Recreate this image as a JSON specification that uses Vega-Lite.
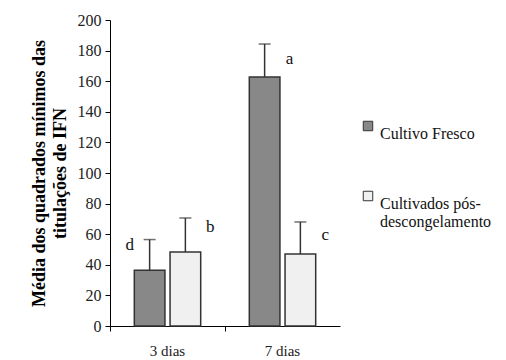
{
  "$schema": "https://vega.github.io/schema/vega-lite/v6.json",
  "width": 230,
  "height": 306,
  "autosize": "none",
  "padding": {"left": 110, "top": 20, "right": 166, "bottom": 34},
  "background": "white",
  "config": {"view": {"stroke": null}},
  "data": {"values": [
    {"dia": "3 dias", "grupo": "Cultivo  Fresco", "media": 36.5, "sup": 56.5, "letra": "d", "pos": 53, "lado": "esq"},
    {"dia": "3 dias", "grupo": "Cultivados pós-descongelamento", "media": 48.3, "sup": 70.6, "letra": "b", "pos": 64.5, "lado": "dir"},
    {"dia": "7 dias", "grupo": "Cultivo  Fresco", "media": 162.8, "sup": 184.3, "letra": "a", "pos": 174.5, "lado": "dir"},
    {"dia": "7 dias", "grupo": "Cultivados pós-descongelamento", "media": 47, "sup": 68, "letra": "c", "pos": 59.5, "lado": "dir"}
  ]},
  "encoding": {
    "x": {
      "field": "dia", "type": "nominal",
      "scale": {"paddingInner": 0, "paddingOuter": 0},
      "axis": {"title": null, "grid": false, "labelAngle": 0, "labelFont": "serif", "labelFontSize": 15, "labelColor": "#222", "labelPadding": 12, "bandPosition": 0, "tickSize": 5, "tickColor": "#000", "domainColor": "#000"}
    },
    "xOffset": {
      "field": "grupo", "type": "nominal",
      "sort": ["Cultivo  Fresco", "Cultivados pós-descongelamento"],
      "scale": {"paddingInner": 0.143, "paddingOuter": 0.68}
    },
    "y": {
      "field": "media", "type": "quantitative",
      "scale": {"domain": [0, 200], "nice": false},
      "axis": {
        "values": [0, 20, 40, 60, 80, 100, 120, 140, 160, 180, 200],
        "labelOverlap": false,
        "grid": false,
        "labelFont": "serif",
        "labelFontSize": 16, "labelColor": "#222", "tickSize": 5, "tickColor": "#000", "domainColor": "#000", "labelPadding": 4,
        "title": ["Média dos quadrados mínimos das", "titulações de IFN"],
        "titleFont": "Liberation Serif",
        "titleFontSize": 18, "titleFontWeight": "bold", "titleColor": "#000", "titlePadding": 8, "titleLineHeight": 21
      }
    }
  },
  "layer": [
    {
      "mark": {"type": "bar", "stroke": "#333", "strokeWidth": 1.5},
      "encoding": {
        "fill": {
          "field": "grupo", "type": "nominal",
          "sort": ["Cultivo  Fresco", "Cultivados pós-descongelamento"],
          "scale": {"range": ["#888888", "#f0f0f0"]},
          "legend": {
            "title": null,
            "orient": "none",
            "legendX": 250,
            "legendY": 98,
            "symbolType": "square",
            "symbolSize": 90,
            "symbolStrokeColor": "#333",
            "symbolStrokeWidth": 1,
            "labelFontSize": 16,
            "labelFont": "serif",
            "labelColor": "#111",
            "rowPadding": 46,
            "labelLimit": 200,
            "labelBaseline": "top",
            "labelOffset": 4,
            "labelExpr": "datum.label == 'Cultivados pós-descongelamento' ? ['Cultivados pós-', 'descongelamento'] : datum.label"
          }
        }
      }
    },
    {
      "mark": {"type": "rule", "color": "#333", "strokeWidth": 1.5},
      "encoding": {"y2": {"field": "sup"}}
    },
    {
      "mark": {"type": "tick", "color": "#333", "thickness": 1.5, "size": 12},
      "encoding": {"y": {"field": "sup", "type": "quantitative"}}
    },
    {
      "transform": [{"filter": "datum.lado == 'esq'"}],
      "mark": {"type": "text", "font": "serif", "fontSize": 17, "dx": -20, "color": "#111"},
      "encoding": {"y": {"field": "pos", "type": "quantitative"}, "text": {"field": "letra"}}
    },
    {
      "transform": [{"filter": "datum.lado == 'dir'"}],
      "mark": {"type": "text", "font": "serif", "fontSize": 17, "dx": 25, "color": "#111"},
      "encoding": {"y": {"field": "pos", "type": "quantitative"}, "text": {"field": "letra"}}
    }
  ]
}
